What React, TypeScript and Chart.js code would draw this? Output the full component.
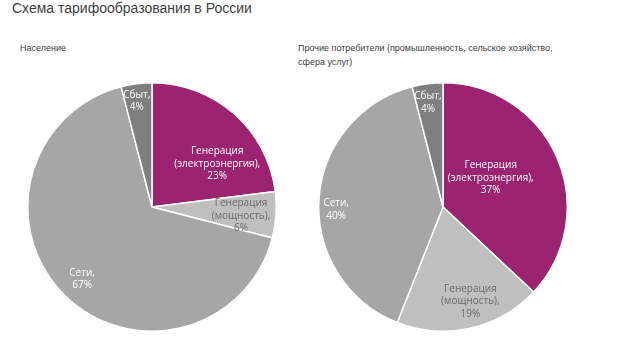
import React, { useEffect, useRef } from "react";
import { Chart, registerables } from "chart.js";
Chart.register(...registerables);

const TITLE = "Схема тарифообразования в России";
const LEFT_TITLE = "Население";
const RIGHT_TITLE = "Прочие потребители (промышленность, сельское хозяйство, сфера услуг)";

const categories = ["Генерация (электроэнергия)", "Генерация (мощность)", "Сети", "Сбыт"];
const labelLines = [["Генерация", "(электроэнергия),"], ["Генерация", "(мощность),"], ["Сети,"], ["Сбыт,"]];
const populationValues = [23, 6, 67, 4];
const otherValues = [37, 19, 40, 4];
const colors = ["#9B2370", "#BFBFBF", "#A6A6A6", "#7F7F7F"];
const labelColors = ["#ffffff", "#6b6b6b", "#ffffff", "#ffffff"];

// label placement (radius fraction, angle shift in degrees) per slice
const leftLabelPos = [[0.63, 15], [0.72, 2], [0.81, -1], [0.86, -1]];
const rightLabelPos = [[0.45, -8], [0.79, -3.6], [0.86, -5], [0.85, -1]];

function makeLabelPlugin(pos: number[][]) {
  return {
    id: "sliceLabels",
    afterDatasetsDraw(chart: any) {
      const ctx = chart.ctx;
      const meta = chart.getDatasetMeta(0);
      const data = chart.data.datasets[0].data;
      ctx.save();
      ctx.font = "10px 'Open Sans', 'Noto Sans', sans-serif";
      ctx.textAlign = "center";
      ctx.textBaseline = "middle";
      meta.data.forEach((arc: any, i: number) => {
        const { x, y, startAngle, endAngle, outerRadius } = arc.getProps(
          ["x", "y", "startAngle", "endAngle", "outerRadius"], true);
        const mid = (startAngle + endAngle) / 2 + (pos[i][1] * Math.PI) / 180;
        const r = outerRadius * pos[i][0];
        const cx = x + Math.cos(mid) * r;
        const cy = y + Math.sin(mid) * r;
        const lines = [...labelLines[i], data[i] + "%"];
        const lh = 12.5;
        ctx.fillStyle = labelColors[i];
        lines.forEach((t: string, k: number) => {
          ctx.fillText(t, cx, cy + (k - (lines.length - 1) / 2) * lh);
        });
      });
      ctx.restore();
    },
  };
}

function Pie({ values, pos, style }: { values: number[]; pos: number[][]; style: React.CSSProperties }) {
  const ref = useRef<HTMLCanvasElement>(null);
  useEffect(() => {
    if (!ref.current) return;
    const chart = new Chart(ref.current, {
      type: "pie",
      data: {
        labels: categories,
        datasets: [{ data: values, backgroundColor: colors, borderColor: "#ffffff", borderWidth: 1.5 }],
      },
      options: {
        animation: false,
        responsive: false,
        maintainAspectRatio: false,
        layout: { padding: 0 },
        plugins: { legend: { display: false }, tooltip: { enabled: false } },
      },
      plugins: [makeLabelPlugin(pos)],
    });
    return () => chart.destroy();
  }, []);
  return <canvas ref={ref} width={250} height={250} style={{ position: "absolute", ...style }} />;
}

export default function App() {
  const font = "'Liberation Sans', Arial, sans-serif";
  return (
    <div style={{ position: "absolute", left: 0, top: 0, width: 640, height: 351, background: "#fff", overflow: "hidden", fontFamily: font }}>
      <div style={{ position: "absolute", left: 12, top: 0, fontSize: 14, lineHeight: "17px", color: "#404040", whiteSpace: "nowrap" }}>{TITLE}</div>
      <div style={{ position: "absolute", left: 20, top: 42, fontSize: 9, lineHeight: "12px", color: "#404040" }}>{LEFT_TITLE}</div>
      <div style={{ position: "absolute", left: 298, top: 41, width: 275, fontSize: 9, lineHeight: "14px", color: "#404040" }}>{RIGHT_TITLE}</div>
      <Pie values={populationValues} pos={leftLabelPos} style={{ left: 27, top: 82 }} />
      <Pie values={otherValues} pos={rightLabelPos} style={{ left: 318, top: 82 }} />
    </div>
  );
}
